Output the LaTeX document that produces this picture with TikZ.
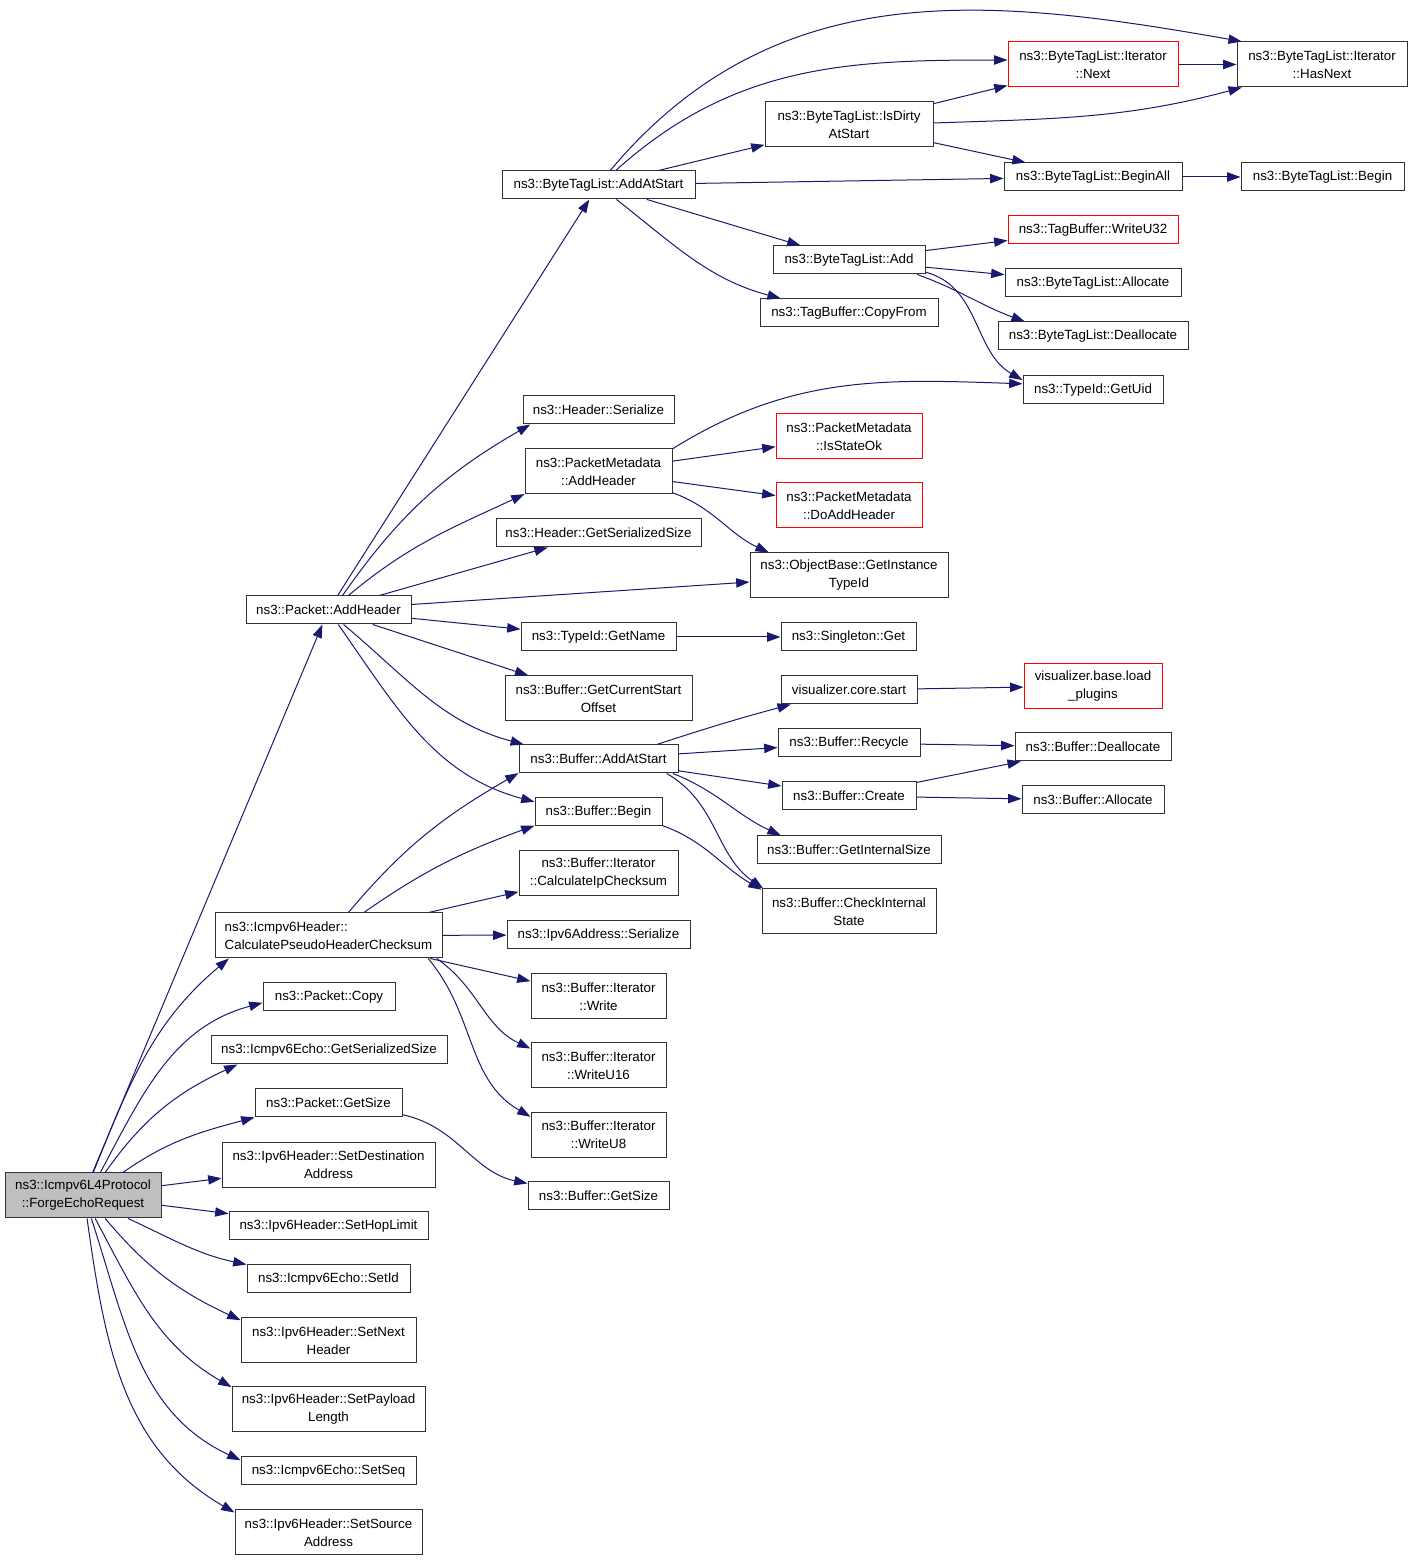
\documentclass[tikz,border=0pt]{standalone}
\usepackage{fontspec}
\setmainfont{Liberation Sans}
\usetikzlibrary{arrows.meta}
\definecolor{edgeblue}{HTML}{191970}

\begin{document}
\begin{tikzpicture}[x=0.75pt, y=0.75pt,
    fn/.style = {draw=black!80, line width=0.75pt, rectangle, align=center,
                 inner sep=0pt, minimum height=21pt,
                 font=\fontsize{10}{13.5}\selectfont},
    two/.style = {minimum height=33.75pt},
    ext/.style = {fn, draw=red},
    caller/.style = {fn, fill=black!25},
    bw/.style = {minimum width=#1*0.75pt},
    call/.style = {edgeblue, line width=0.75pt, -{Triangle[length=10pt,width=7pt]}}]

    \useasboundingbox (0,0) rectangle (1413,1561);

    % Caller
    \node [caller, two, bw=156] (root) at (83,365.5) {ns3::Icmpv6L4Protocol\\::ForgeEchoRequest};

    % Direct callees
    \node [fn, bw=165] (addh) at (328.5,951) {ns3::Packet::AddHeader};
    \node [fn, two, bw=227, align=left] (calc) at (328.5,625.5) {ns3::Icmpv6Header::\\CalculatePseudoHeaderChecksum};
    \node [fn, bw=132] (pcopy) at (329,564) {ns3::Packet::Copy};
    \node [fn, bw=236] (egss) at (329,511) {ns3::Icmpv6Echo::GetSerializedSize};
    \node [fn, bw=147] (pgsize) at (328.5,458) {ns3::Packet::GetSize};
    \node [fn, two, bw=213] (sdest) at (328.5,396) {ns3::Ipv6Header::SetDestination\\Address};
    \node [fn, bw=199] (shop) at (328.5,335) {ns3::Ipv6Header::SetHopLimit};
    \node [fn, bw=163] (sid) at (328.5,282) {ns3::Icmpv6Echo::SetId};
    \node [fn, two, bw=175] (snext) at (328.5,220.5) {ns3::Ipv6Header::SetNext\\Header};
    \node [fn, two, bw=193] (spay) at (328.5,151.5) {ns3::Ipv6Header::SetPayload\\Length};
    \node [fn, bw=175] (sseq) at (328.5,90) {ns3::Icmpv6Echo::SetSeq};
    \node [fn, two, bw=187] (ssrc) at (328.5,28.5) {ns3::Ipv6Header::SetSource\\Address};

    % Third column
    \node [fn, bw=193] (btaas) at (598.5,1376) {ns3::ByteTagList::AddAtStart};
    \node [fn, bw=151] (hser) at (598.5,1151) {ns3::Header::Serialize};
    \node [fn, two, bw=147] (pmah) at (598.5,1089.5) {ns3::PacketMetadata\\::AddHeader};
    \node [fn, bw=205] (hgss) at (598.5,1028) {ns3::Header::GetSerializedSize};
    \node [fn, bw=155] (gname) at (598.5,924) {ns3::TypeId::GetName};
    \node [fn, two, bw=187] (gcso) at (598.5,862.5) {ns3::Buffer::GetCurrentStart\\Offset};
    \node [fn, bw=159] (baas) at (598.5,802) {ns3::Buffer::AddAtStart};
    \node [fn, bw=127] (bbeg) at (598.5,749) {ns3::Buffer::Begin};
    \node [fn, two, bw=159] (cipc) at (598.5,687.5) {ns3::Buffer::Iterator\\::CalculateIpChecksum};
    \node [fn, bw=183] (a6ser) at (598.5,626) {ns3::Ipv6Address::Serialize};
    \node [fn, two, bw=135] (iwr) at (598.5,564.5) {ns3::Buffer::Iterator\\::Write};
    \node [fn, two, bw=135] (iw16) at (598.5,495.5) {ns3::Buffer::Iterator\\::WriteU16};
    \node [fn, two, bw=135] (iw8) at (598.5,426) {ns3::Buffer::Iterator\\::WriteU8};
    \node [fn, bw=141] (bgsize) at (598.5,365) {ns3::Buffer::GetSize};

    % Fourth column
    \node [fn, two, bw=168] (dirty) at (849,1436.5) {ns3::ByteTagList::IsDirty\\AtStart};
    \node [fn, bw=152] (btadd) at (849,1301) {ns3::ByteTagList::Add};
    \node [fn, bw=178] (copyf) at (849,1248) {ns3::TagBuffer::CopyFrom};
    \node [ext, two, bw=146] (isok) at (849,1124.5) {ns3::PacketMetadata\\::IsStateOk};
    \node [ext, two, bw=146] (doadd) at (849,1055.5) {ns3::PacketMetadata\\::DoAddHeader};
    \node [fn, two, bw=198] (ginst) at (849,985.5) {ns3::ObjectBase::GetInstance\\TypeId};
    \node [fn, bw=135] (sget) at (848.5,924) {ns3::Singleton::Get};
    \node [fn, bw=136] (vstart) at (849,871) {visualizer.core.start};
    \node [fn, bw=142] (recyc) at (849,818) {ns3::Buffer::Recycle};
    \node [fn, bw=134] (bcreate) at (849,765) {ns3::Buffer::Create};
    \node [fn, bw=184] (gisize) at (849,711) {ns3::Buffer::GetInternalSize};
    \node [fn, two, bw=174] (chkst) at (849,649.5) {ns3::Buffer::CheckInternal\\State};

    % Fifth and sixth columns
    \node [ext, two, bw=170] (inext) at (1093,1496.5) {ns3::ByteTagList::Iterator\\::Next};
    \node [fn, bw=178] (beginall) at (1093,1384) {ns3::ByteTagList::BeginAll};
    \node [ext, bw=170] (wu32) at (1093,1331) {ns3::TagBuffer::WriteU32};
    \node [fn, bw=176] (balloc) at (1093,1278) {ns3::ByteTagList::Allocate};
    \node [fn, bw=190] (bdealloc) at (1093,1225) {ns3::ByteTagList::Deallocate};
    \node [fn, bw=140] (getuid) at (1093,1171) {ns3::TypeId::GetUid};
    \node [ext, two, bw=138] (loadpl) at (1093,875) {visualizer.base.load\\\_plugins};
    \node [fn, bw=156] (bufdealloc) at (1093,814) {ns3::Buffer::Deallocate};
    \node [fn, bw=142] (bufalloc) at (1093,761) {ns3::Buffer::Allocate};
    \node [fn, two, bw=170] (hasnext) at (1322,1496.5) {ns3::ByteTagList::Iterator\\::HasNext};
    \node [fn, bw=163] (btbegin) at (1322.5,1384) {ns3::ByteTagList::Begin};

    % Calls from ForgeEchoRequest
    \draw [call] (root) -- (addh);
    \draw [call] (root.66) to[out=68,in=-140] (calc.-167);
    \draw [call] (root.53) to[out=62,in=-165] (pcopy.185);
    \draw [call] (root.46) to[out=55,in=-155] (egss.-171);
    \draw [call] (root.30) to[out=35,in=-165] (pgsize.-169);
    \draw [call] (root) -- (sdest);
    \draw [call] (root) -- (shop);
    \draw [call] (root.-27) to[out=-25,in=168] (sid.170);
    \draw [call] (root.-46) to[out=-50,in=155] (snext.167);
    \draw [call] (root.-62) to[out=-62,in=150] (spay.167);
    \draw [call] (root.-70) to[out=-72,in=155] (sseq.173);
    \draw [call] (root.-80) to[out=-82,in=150] (ssrc.168);

    % Calls from Packet::AddHeader
    \draw [call] (addh) -- (btaas);
    \draw [call] (addh.46) to[out=55,in=-150] (hser.-168);
    \draw [call] (addh.36) to[out=40,in=-155] (pmah.-163);
    \draw [call] (addh) -- (hgss);
    \draw [call] (addh) -- (ginst);
    \draw [call] (addh) -- (gname);
    \draw [call] (addh) -- (gcso);
    \draw [call] (addh.-44) to[out=-40,in=165] (baas.169);
    \draw [call] (addh.-56) to[out=-55,in=165] (bbeg.171);

    % Calls from CalculatePseudoHeaderChecksum
    \draw [call] (calc.49) to[out=50,in=-150] (baas.-170);
    \draw [call] (calc.33) to[out=35,in=-160] (bbeg.-168);
    \draw [call] (calc) -- (cipc);
    \draw [call] (calc) -- (a6ser);
    \draw [call] (calc) -- (iwr);
    \draw [call] (calc.-12) to[out=-35,in=155] (iw16.166);
    \draw [call] (calc.-13) to[out=-50,in=150] (iw8.165);
    \draw [call] (pgsize.-9) to[out=-12,in=168] (bgsize.170);

    % Calls from ByteTagList::AddAtStart
    \draw [call] (btaas) -- (dirty);
    \draw [call, looseness=1.02] (btaas.51) to[out=50,in=170] (hasnext.164);
    \draw [call] (btaas.40) to[out=42,in=180] (inext.177);
    \draw [call] (btaas) -- (beginall);
    \draw [call] (btaas) -- (btadd);
    \draw [call] (btaas.-39) to[out=-38,in=165] (copyf.168);
    \draw [call] (dirty) -- (inext);
    \draw [call] (dirty.1) to[out=2,in=-165] (hasnext.-164);
    \draw [call] (dirty) -- (beginall);
    \draw [call] (inext) -- (hasnext);
    \draw [call] (beginall) -- (btbegin);

    % Calls from ByteTagList::Add and PacketMetadata::AddHeader
    \draw [call] (btadd) -- (wu32);
    \draw [call] (btadd) -- (balloc);
    \draw [call] (btadd.-12) to[out=-20,in=160] (bdealloc.168);
    \draw [call] (btadd.-9) to[out=-15,in=150] (getuid.172);
    \draw [call] (pmah.17) to[out=32,in=178] (getuid.175);
    \draw [call] (pmah) -- (isok);
    \draw [call] (pmah) -- (doadd);
    \draw [call] (pmah.-16) to[out=-20,in=155] (ginst.164);
    \draw [call] (gname) -- (sget);

    % Calls from Buffer::AddAtStart and Buffer::Begin
    \draw [call] (baas.14) to[out=18,in=-165] (vstart.-166);
    \draw [call] (baas) -- (recyc);
    \draw [call] (baas) -- (bcreate);
    \draw [call] (baas.-11) to[out=-22,in=155] (gisize.168);
    \draw [call] (baas.-12) to[out=-30,in=145] (chkst.165);
    \draw [call] (bbeg.-12) to[out=-20,in=150] (chkst.166);
    \draw [call] (vstart) -- (loadpl);
    \draw [call] (recyc) -- (bufdealloc);
    \draw [call] (bcreate) -- (bufdealloc);
    \draw [call] (bcreate) -- (bufalloc);
\end{tikzpicture}
\end{document}
